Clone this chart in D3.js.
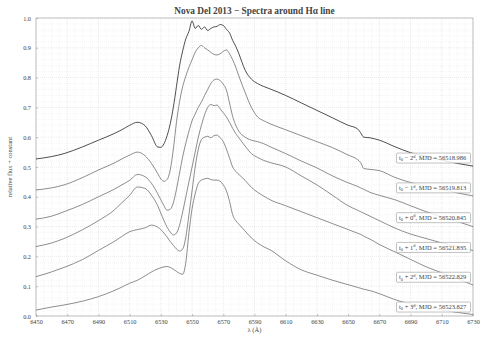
<!DOCTYPE html>
<meta charset="utf-8">
<style>
body{ margin:0; background:#fff; }
svg text{ font-family:"Liberation Serif","DejaVu Serif",serif; fill:#444; }
.grid line{ stroke:#d4d4d4; stroke-width:0.5; stroke-dasharray:1,1; }
.grid .minor{ stroke:#ebebeb; }
.spectra path{ fill:none; stroke:#505050; stroke-width:0.65; }
.tag rect{ fill:#fff; fill-opacity:0.85; stroke:#9a9a9a; stroke-width:0.6; }
</style>
<body>
<script src="https://d3js.org/d3.v7.min.js"></script>
<script>

// wavelength grid (Angstrom) shared by all spectra
var wavelength = [6450, 6460, 6468, 6480, 6490, 6500, 6505, 6510, 6515, 6520,
  6524, 6528, 6530, 6532, 6534, 6536, 6538, 6540, 6542, 6544,
  6546, 6548, 6550, 6552, 6554, 6556, 6558, 6560, 6562, 6564,
  6566, 6568, 6570, 6572, 6574, 6576, 6578, 6580, 6584, 6588,
  6592, 6596, 6600, 6610, 6620, 6630, 6640, 6650, 6656, 6658,
  6660, 6664, 6670, 6680, 6690, 6700, 6710, 6720, 6730];

// relative flux + constant, one list per night
var fluxMinus2 = [.527, .535, .545, .568, .590, .612, .625, .640, .650, .638,
  .605, .567, .566, .578, .605, .645, .700, .770, .840, .890,
  .930, .955, .990, .965, .975, .962, .970, .958, .965, .970,
  .972, .978, .975, .962, .950, .925, .905, .880, .825, .795,
  .780, .770, .762, .740, .715, .690, .665, .640, .628, .615,
  .600, .598, .590, .568, .548, .535, .523, .512, .503];
var fluxMinus1 = [.423, .430, .440, .465, .490, .513, .527, .540, .550, .537,
  .512, .478, .460, .452, .458, .490, .560, .650, .720, .770,
  .805, .835, .860, .885, .900, .908, .900, .893, .885, .878,
  .876, .880, .888, .893, .880, .860, .835, .805, .750, .700,
  .668, .655, .645, .625, .605, .585, .565, .540, .525, .515,
  .495, .492, .488, .465, .448, .435, .425, .413, .403];
var fluxPlus0 = [.325, .335, .350, .375, .400, .425, .440, .455, .475, .467,
  .445, .410, .390, .370, .355, .358, .380, .425, .480, .535,
  .580, .620, .655, .678, .700, .718, .740, .760, .780, .792,
  .795, .790, .778, .758, .715, .670, .640, .620, .600, .590,
  .585, .578, .568, .545, .520, .497, .470, .447, .435, .430,
  .425, .415, .405, .390, .370, .350, .333, .317, .300];
var fluxPlus1 = [.233, .245, .260, .290, .320, .355, .380, .405, .433, .428,
  .405, .370, .345, .320, .298, .282, .272, .278, .305, .350,
  .400, .450, .500, .550, .600, .640, .675, .700, .710, .706,
  .708, .695, .682, .668, .650, .630, .612, .598, .570, .545,
  .532, .522, .515, .500, .470, .440, .405, .370, .355, .350,
  .345, .335, .320, .295, .275, .260, .245, .232, .220];
var fluxPlus2 = [.132, .148, .163, .190, .220, .250, .267, .283, .290, .296,
  .305, .298, .290, .278, .265, .250, .237, .225, .218, .225,
  .265, .340, .420, .500, .560, .592, .600, .603, .598, .605,
  .607, .598, .585, .560, .530, .500, .485, .475, .455, .432,
  .415, .402, .390, .370, .350, .330, .310, .290, .278, .274,
  .268, .258, .240, .215, .190, .165, .145, .125, .104];
var fluxPlus3 = [.020, .030, .037, .050, .065, .085, .097, .110, .120, .135,
  .148, .158, .162, .165, .166, .163, .157, .150, .143, .140,
  .180, .280, .360, .410, .445, .456, .460, .462, .458, .456,
  .456, .452, .440, .420, .385, .340, .320, .308, .285, .262,
  .245, .232, .222, .185, .155, .137, .120, .105, .096, .093,
  .090, .085, .075, .055, .040, .030, .020, .012, .005];

var dayOffset = ["\u2212 2", "\u2212 1", "+ 0", "+ 1", "+ 2", "+ 3"];
var mjd = ["56518.986", "56519.813", "56520.845", "56521.835", "56522.829", "56523.827"];
var xTicks = [6450, 6470, 6490, 6510, 6530, 6550, 6570, 6590, 6610, 6630, 6650, 6670, 6690, 6710, 6730];
var yTicks = [0, 0.1, 0.2, 0.3, 0.4, 0.5, 0.6, 0.7, 0.8, 0.9, 1.0];

var series = [fluxMinus2, fluxMinus1, fluxPlus0, fluxPlus1, fluxPlus2, fluxPlus3];

var W = 501, H = 344;
var margin = {top: 18, right: 28, bottom: 28, left: 36};

var svg = d3.select("body").append("svg")
    .attr("width", W)
    .attr("height", H);

var x = d3.scaleLinear().domain([6450, 6730]).range([margin.left, W - margin.right]);
var y = d3.scaleLinear().domain([0, 1]).range([H - margin.bottom, margin.top]);

// grid, minor first
var grid = svg.append("g").attr("class", "grid");
var xMinor = d3.range(6450, 6731, 5).filter(function(d) { return (d - 6450) % 20 != 0; });
var yMinor = d3.range(0, 50).map(function(i) { return i / 50; }).filter(function(d, i) { return i % 5 != 0; });

grid.selectAll("line.xm").data(xMinor).enter().append("line")
    .attr("class", "minor")
    .attr("x1", x).attr("x2", x)
    .attr("y1", y(0)).attr("y2", y(1));
grid.selectAll("line.ym").data(yMinor).enter().append("line")
    .attr("class", "minor")
    .attr("y1", y).attr("y2", y)
    .attr("x1", x(6450)).attr("x2", x(6730));
grid.selectAll("line.xM").data(xTicks).enter().append("line")
    .attr("x1", x).attr("x2", x)
    .attr("y1", y(0)).attr("y2", y(1));
grid.selectAll("line.yM").data(yTicks).enter().append("line")
    .attr("y1", y).attr("y2", y)
    .attr("x1", x(6450)).attr("x2", x(6730));

// axes
var xAxis = svg.append("g")
    .attr("transform", "translate(0," + y(0) + ")")
    .call(d3.axisBottom(x).tickValues(xTicks).tickSize(-2).tickPadding(4).tickFormat(d3.format("d")));
var yAxis = svg.append("g")
    .attr("transform", "translate(" + x(6450) + ",0)")
    .call(d3.axisLeft(y).tickValues(yTicks).tickSize(-2).tickPadding(5).tickFormat(d3.format(".1f")));

[xAxis, yAxis].forEach(function(a) {
  a.select(".domain").remove();
  a.selectAll("line").attr("stroke", "#888").attr("stroke-width", 0.5);
  a.selectAll("text").style("font-size", "6.3px").attr("fill", "#666");
});

svg.append("rect")
    .attr("x", x(6450)).attr("y", y(1))
    .attr("width", x(6730) - x(6450)).attr("height", y(0) - y(1))
    .attr("fill", "none").attr("stroke", "#aaa").attr("stroke-width", 0.7);

// spectra
var line = d3.line()
    .x(function(d, i) { return x(wavelength[i]); })
    .y(function(d) { return y(d); })
    .curve(d3.curveMonotoneX);

svg.append("g").attr("class", "spectra")
  .selectAll("path").data(series).enter().append("path")
    .attr("d", line)
    .style("stroke", function(d, i) { return i == 0 ? "#222" : null; })
    .style("stroke-width", function(d, i) { return i == 0 ? 0.8 : null; });

// epoch labels
var tags = svg.append("g").selectAll("g").data(mjd).enter().append("g")
    .attr("class", "tag")
    .attr("transform", function(d, i) { return "translate(" + (x(6730) - 1.5) + "," + y(0.53 - 0.1 * i) + ")"; });

tags.append("rect")
    .attr("x", -75).attr("y", -5)
    .attr("width", 74).attr("height", 10)
    .attr("rx", 1);

var tagText = tags.append("text")
    .attr("x", -72.5).attr("y", 2.2)
    .style("font-size", "6.5px")
    .attr("fill", "#333");
tagText.append("tspan").text("t");
tagText.append("tspan").attr("dy", 1.2).style("font-size", "4.5px").text("0");
tagText.append("tspan").attr("dy", -1.2).text(function(d, i) { return " " + dayOffset[i]; });
tagText.append("tspan").attr("dy", -2.5).style("font-size", "4.5px").text("d");
tagText.append("tspan").attr("dy", 2.5).text(function(d) { return ", MJD = " + d; });

// titles
svg.append("text")
    .attr("x", (x(6450) + x(6730)) / 2).attr("y", 14)
    .attr("text-anchor", "middle")
    .style("font-size", "9.3px").style("font-weight", "bold")
    .attr("fill", "#222")
    .text("Nova Del 2013 \u2212 Spectra around H\u03b1 line");

svg.append("text")
    .attr("x", (x(6450) + x(6730)) / 2).attr("y", 332)
    .attr("text-anchor", "middle")
    .style("font-size", "6.5px")
    .text("\u03bb (\u00c5)");

svg.append("text")
    .attr("transform", "translate(12," + (y(0.5)) + ") rotate(-90)")
    .attr("text-anchor", "middle")
    .style("font-size", "6.5px")
    .text("relative flux + constant");

</script>
</body>
